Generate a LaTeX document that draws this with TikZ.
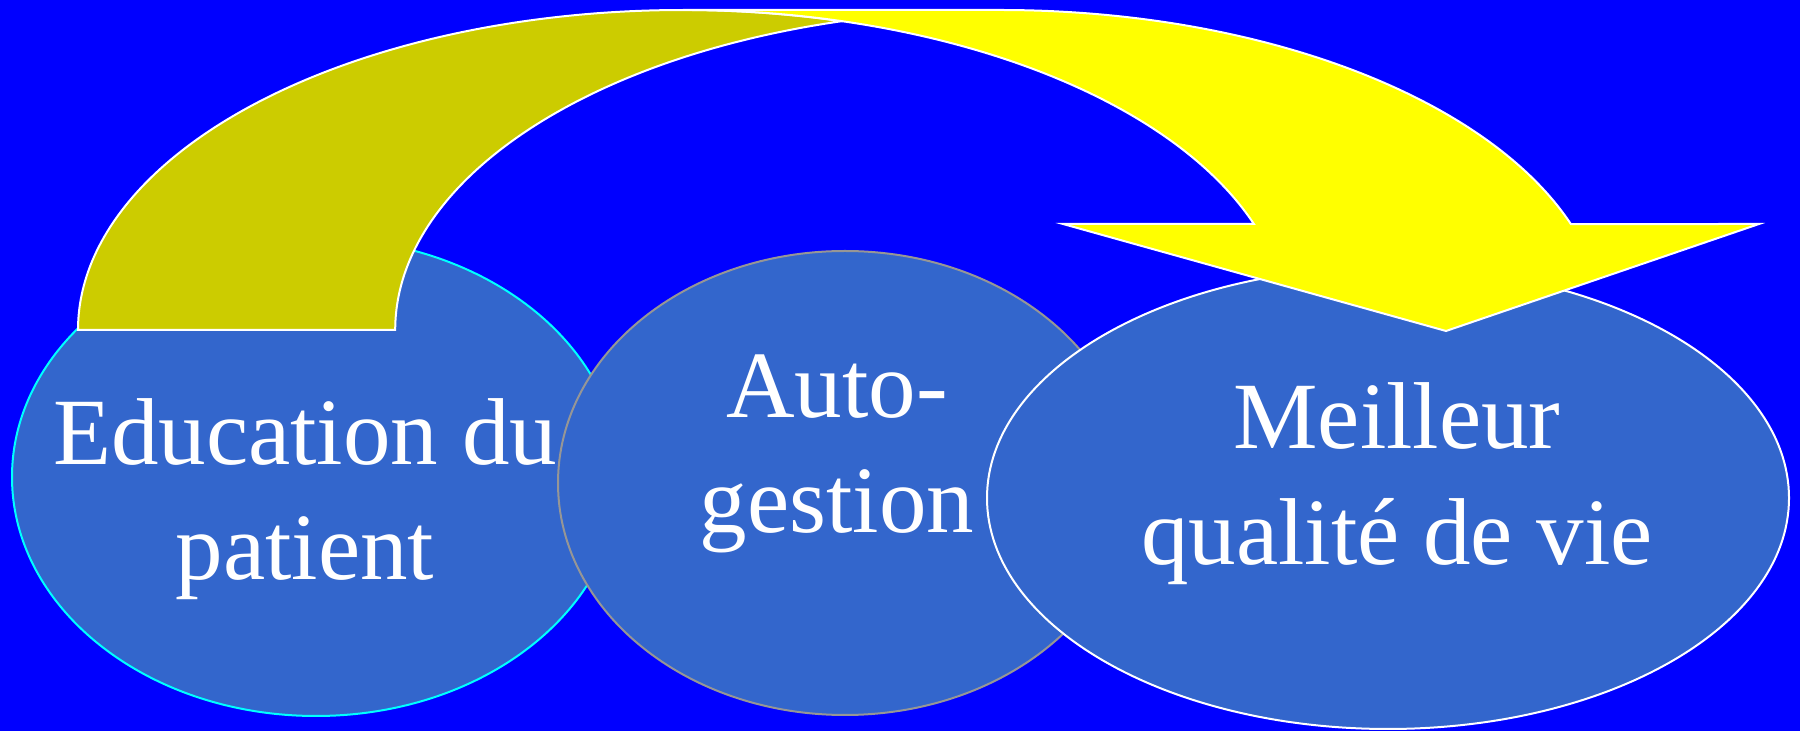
\documentclass[tikz,border=0pt]{standalone}
\usepackage{fontspec}
\setmainfont{Liberation Serif}
\usetikzlibrary{shapes.geometric}
\definecolor{bgblue}{RGB}{0,0,255}
\definecolor{ellfill}{RGB}{51,102,204}
\definecolor{olivebrown}{RGB}{204,204,0}
\definecolor{yell}{RGB}{255,255,0}
\definecolor{grayedge}{RGB}{150,150,150}
\definecolor{cyanedge}{RGB}{0,255,255}
\begin{document}
\begin{tikzpicture}[x=1pt,y=1pt,
  bubble/.style={ellipse, fill=ellfill, line width=2pt, inner sep=0pt, outer sep=0pt},
  lbl/.style={text=white, font=\fontsize{95}{115}\selectfont, inner sep=0pt, anchor=base},
  band/.style={draw=white, line width=2pt, line join=miter}]
\fill[bgblue] (0,0) rectangle (1800,731);
\useasboundingbox (0,0) rectangle (1800,731);
\node[bubble, draw=cyanedge, minimum width=608pt, minimum height=478pt] (edu) at (316,254) {};
\node[lbl] (edu1) at (305,266) {Education du};
\node[lbl] (edu2) at (305,151) {patient};
\node[bubble, draw=grayedge, minimum width=574pt, minimum height=464pt] (auto) at (845,248) {};
\node[lbl] (auto1) at (837,313) {Auto-};
\node[lbl] (auto2) at (837,198) {gestion};
\node[bubble, draw=white, minimum width=802pt, minimum height=462pt] (qual) at (1388,233) {};
\node[lbl] (qual1) at (1397,282) {Meilleur};
\node[lbl] (qual2) at (1397,166) {qualité de vie};
\draw[band, fill=olivebrown] (78,401) arc[start angle=180, end angle=74.8, x radius=605pt, y radius=320pt]
  arc[start angle=105.2, end angle=180, x radius=605pt, y radius=320pt] -- cycle;
\draw[band, fill=yell] (683,721) -- (1000,721)
  arc[start angle=90, end angle=19.34, x radius=605pt, y radius=320pt]
  -- (1759,507) -- (1446,400) -- (1063,507) -- (1253.9,507)
  arc[start angle=19.34, end angle=90, x radius=605pt, y radius=320pt] -- cycle;
\end{tikzpicture}
\end{document}
